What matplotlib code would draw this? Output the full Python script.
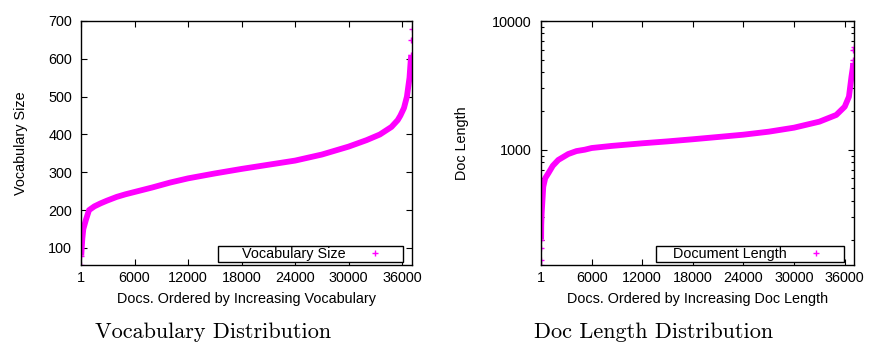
import matplotlib
matplotlib.use("Agg")
import matplotlib.pyplot as plt
from matplotlib.ticker import FixedLocator, FuncFormatter, LogLocator, NullFormatter

plt.rcParams['font.family'] = ['Liberation Sans', 'DejaVu Sans']

# vocabulary size per doc, sorted
vocab_rank = [1, 30, 80, 150, 260, 560, 900, 1500, 2200, 2900, 4000, 5000, 6000,
              8000, 10000, 12000, 15000, 18000, 21000, 24000, 27000, 30000, 32000,
              33500, 34800, 35500, 35800, 36200, 36530, 36820, 36970, 37020, 37040, 37050]
vocab_size = [55, 80, 100, 125, 150, 175, 200, 210, 218, 225, 235, 242, 248,
              260, 273, 284, 297, 309, 320, 331, 347, 368, 385,
              400, 420, 438, 450, 470, 500, 550, 600, 610, 650, 680]

# document length per doc, sorted
doc_rank = [1, 3, 8, 15, 30, 80, 270, 500, 865, 1400, 2050, 3230, 4200, 5200, 6000,
            8400, 12000, 15000, 18000, 21000, 24000, 27000, 30000, 33000, 35000,
            36000, 36500, 36800, 36950, 37000, 37030, 37040, 37050]
doc_len = [127, 139, 171, 200, 260, 320, 516, 600, 655, 750, 832, 925, 975, 1000, 1030,
           1070, 1121, 1160, 1205, 1255, 1308, 1380, 1483, 1651, 1862,
           2158, 2580, 3690, 4300, 4700, 5000, 5900, 6300]

xticks = [1, 6000, 12000, 18000, 24000, 30000, 36000]
fs = 10.4
mag = '#ff00ff'

fig = plt.figure(figsize=(8.69, 3.43), dpi=100)
ax1 = fig.add_axes([81/869, 1-265/343, 331/869, 244/343])
ax2 = fig.add_axes([541/869, 1-265/343, 313/869, 244/343])


def style(ax):
    ax.set_xlim(1, 37100)
    ax.xaxis.set_major_locator(FixedLocator(xticks))
    ax.tick_params(which='both', direction='in', top=True, right=True,
                   labelsize=fs, width=0.8)
    ax.tick_params(which='major', length=4.5)
    ax.tick_params(which='minor', length=2.5)
    ax.tick_params(axis='x', pad=4.5)
    ax.tick_params(axis='y', pad=6.5)
    for s in ax.spines.values():
        s.set_linewidth(1.0)


def draw(ax, xs, ys, n_head, n_tail, label):
    # dense middle as a thick band, sparse ends as single crosses
    ax.plot(xs[n_head - 1:len(xs) - n_tail + 1], ys[n_head - 1:len(ys) - n_tail + 1],
            color=mag, lw=4.2, solid_capstyle='butt')
    ends_x = xs[:n_head] + xs[-n_tail:]
    ends_y = ys[:n_head] + ys[-n_tail:]
    ax.plot(ends_x, ends_y, '+', color=mag, ms=4, mew=1.0, label=label)


# left: vocabulary
draw(ax1, vocab_rank, vocab_size, 2, 3, '      Vocabulary Size')
ax1.set_ylim(55, 700)
ax1.set_yticks([100, 200, 300, 400, 500, 600, 700])
style(ax1)
ax1.set_xlabel('Docs. Ordered by Increasing Vocabulary', fontsize=fs)
ax1.set_ylabel('Vocabulary Size', fontsize=fs)
ax1.xaxis.set_label_coords(0.5, -0.112)
ax1.yaxis.set_label_coords(-0.159, 0.5)

# right: doc length, log scale
draw(ax2, doc_rank, doc_len, 4, 4, '    Document Length')
ax2.set_yscale('log')
ax2.set_ylim(127, 10000)
ax2.yaxis.set_major_locator(FixedLocator([100, 1000, 10000]))
ax2.yaxis.set_major_formatter(FuncFormatter(lambda v, p: '%d' % v))
ax2.yaxis.set_minor_locator(LogLocator(base=10, subs=range(2, 10), numticks=20))
ax2.yaxis.set_minor_formatter(NullFormatter())
style(ax2)
ax2.set_xlabel('Docs. Ordered by Increasing Doc Length', fontsize=fs)
ax2.set_ylabel('Doc Length', fontsize=fs)
ax2.xaxis.set_label_coords(0.5, -0.112)
ax2.yaxis.set_label_coords(-0.229, 0.5)

for ax, ax_w, box_r in [(ax1, 331, 403 - 81), (ax2, 313, 844 - 541)]:
    leg = ax.legend(loc='lower right', bbox_to_anchor=(box_r / ax_w, 3.3 / 244),
                    borderaxespad=0, markerfirst=False, fancybox=False,
                    edgecolor='black', framealpha=1, fontsize=fs,
                    handlelength=3.8, handletextpad=0.1, borderpad=0.05)
    leg.get_frame().set_linewidth(1.0)

fig.text(213.3/869, 1-338/343, 'Vocabulary Distribution', fontname='cmr10',
         fontsize=16, ha='center', va='baseline')
fig.text(654/869, 1-338/343, 'Doc Length Distribution', fontname='cmr10',
         fontsize=16, ha='center', va='baseline')

fig.savefig('out.png', dpi=100, facecolor='white')
